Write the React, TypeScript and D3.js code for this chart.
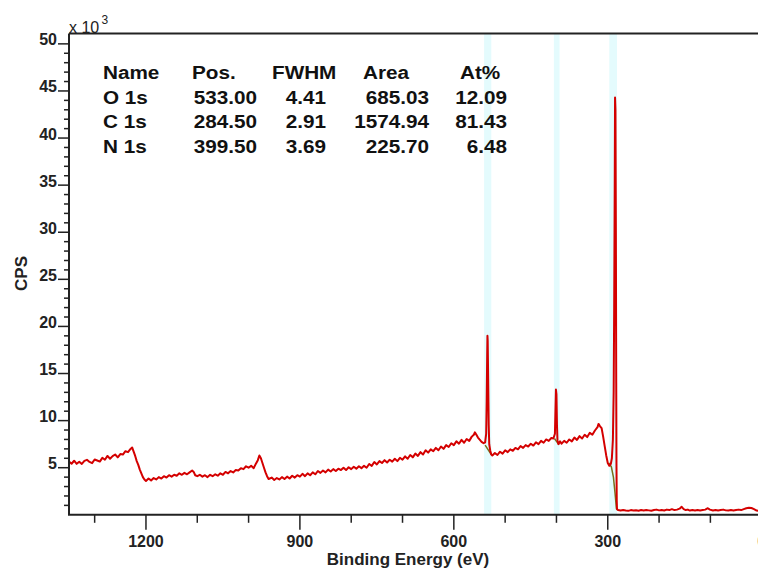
import React from 'react';
import * as d3 from 'd3';

// ---------- data ----------
// Survey spectrum: [binding energy (eV), counts (x10^3 CPS)]
const spectrum: [number, number][] = [
  [1350, 5.65], [1345, 5.42], [1340, 5.74], [1335, 5.41], [1330, 5.63], [1325, 5.4], [1320, 5.72],
  [1315, 5.84], [1310, 5.61], [1305, 5.48], [1300, 5.87], [1295, 5.76], [1290, 5.65], [1285, 6.05],
  [1280, 5.85], [1275, 6.25], [1270, 5.95], [1265, 6.23], [1260, 6.4], [1255, 6.1], [1250, 6.45],
  [1245, 6.4], [1240, 6.75], [1235, 6.65], [1230, 7.0], [1227, 7.15], [1224, 6.7], [1221, 6.25],
  [1218, 5.7], [1215, 5.3], [1212, 4.8], [1209, 4.4], [1206, 4.0], [1203, 3.75], [1200, 3.6],
  [1195, 3.85], [1190, 3.65], [1185, 3.9], [1180, 3.75], [1175, 4.0], [1170, 3.85], [1165, 4.1],
  [1160, 3.95], [1155, 4.2], [1150, 4.05], [1145, 4.25], [1140, 4.15], [1135, 4.4], [1130, 4.25],
  [1125, 4.45], [1120, 4.3], [1115, 4.5], [1110, 4.7], [1107, 4.55], [1104, 4.2], [1100, 4.1],
  [1095, 4.25], [1090, 4.05], [1085, 4.2], [1080, 4.0], [1075, 4.25], [1070, 4.1], [1065, 4.3],
  [1060, 4.15], [1055, 4.4], [1050, 4.25], [1045, 4.55], [1040, 4.4], [1035, 4.65], [1030, 4.5],
  [1025, 4.75], [1020, 4.7], [1015, 4.95], [1010, 4.85], [1005, 5.15], [1000, 5.0], [995, 5.2],
  [990, 4.95], [986, 5.4], [982, 5.8], [979, 6.3], [976, 6.0], [973, 5.5], [970, 5.0], [967, 4.5],
  [964, 4.1], [961, 3.8], [955, 3.95], [950, 3.7], [945, 3.9], [940, 3.75], [935, 4.0], [930, 3.8],
  [925, 4.05], [920, 3.85], [915, 4.15], [910, 3.95], [905, 4.2], [900, 4.05], [895, 4.35], [890, 4.1],
  [885, 4.4], [880, 4.2], [875, 4.5], [870, 4.3], [865, 4.65], [860, 4.45], [855, 4.7], [850, 4.5],
  [845, 4.8], [840, 4.6], [835, 4.85], [830, 4.65], [825, 4.9], [820, 4.75], [815, 5.0], [810, 4.75],
  [805, 5.05], [800, 4.85], [795, 5.1], [790, 4.9], [785, 5.15], [780, 4.95], [775, 5.2], [770, 5.0],
  [765, 5.4], [760, 5.2], [755, 5.6], [750, 5.35], [745, 5.7], [740, 5.5], [735, 5.8], [730, 5.55],
  [725, 5.85], [720, 5.65], [715, 5.95], [710, 5.7], [705, 6.05], [700, 5.85], [695, 6.2], [690, 5.95],
  [685, 6.35], [680, 6.1], [675, 6.5], [670, 6.25], [665, 6.65], [660, 6.4], [655, 6.85], [650, 6.6],
  [645, 6.95], [640, 6.75], [635, 7.1], [630, 6.85], [625, 7.25], [620, 7.0], [615, 7.4], [610, 7.2],
  [605, 7.6], [600, 7.4], [595, 7.8], [590, 7.55], [585, 7.95], [580, 7.65], [575, 8.05], [570, 7.85],
  [565, 8.3], [561, 8.5], [559, 8.75], [556, 8.5], [553, 8.2], [550, 8.0], [546, 7.75], [542, 7.6],
  [539, 7.7], [537, 8.6], [536, 12.0], [535, 17.0], [534.5, 19.0], [534, 18.5], [533, 14.0],
  [532, 9.5], [531, 7.5], [529, 6.8], [527, 6.4], [525, 6.3], [520, 6.55], [515, 6.35], [510, 6.7],
  [505, 6.5], [500, 6.85], [495, 6.65], [490, 6.95], [485, 6.8], [480, 7.1], [475, 6.95], [470, 7.3],
  [465, 7.1], [460, 7.4], [455, 7.25], [450, 7.55], [445, 7.35], [440, 7.7], [435, 7.5], [430, 7.85],
  [425, 7.65], [420, 8.0], [415, 7.85], [410, 8.15], [406, 8.1], [403, 8.6], [402, 11.0], [401, 13.3],
  [400, 12.8], [399, 9.5], [398, 7.9], [396, 7.5], [393, 7.8], [390, 7.55], [385, 7.85], [380, 7.65],
  [375, 8.0], [370, 7.8], [365, 8.2], [360, 7.95], [355, 8.35], [350, 8.1], [345, 8.5], [340, 8.25],
  [335, 8.7], [330, 8.5], [325, 8.95], [320, 9.3], [318, 9.65], [315, 9.4], [312, 9.2], [309, 8.3],
  [306, 7.3], [303, 6.3], [300, 5.5], [297, 5.2], [294, 5.4], [292, 6.0], [290, 8.0], [288.5, 13],
  [287.5, 22], [286.5, 34], [285.8, 44.3], [285, 43.0], [284.2, 30], [283.5, 14], [283, 5],
  [282.5, 1.5], [282, 0.6], [280, 0.5], [275, 0.45], [270, 0.5], [265, 0.45], [260, 0.42], [255, 0.5],
  [250, 0.45], [245, 0.48], [240, 0.43], [235, 0.5], [230, 0.45], [225, 0.5], [220, 0.47], [215, 0.43],
  [210, 0.5], [205, 0.55], [200, 0.47], [195, 0.5], [190, 0.45], [185, 0.55], [180, 0.5], [175, 0.6],
  [170, 0.5], [165, 0.55], [160, 0.65], [156, 0.85], [152, 0.6], [148, 0.5], [144, 0.55], [140, 0.45],
  [135, 0.5], [130, 0.45], [125, 0.5], [120, 0.45], [115, 0.5], [110, 0.55], [105, 0.7], [101, 0.55],
  [95, 0.45], [90, 0.5], [85, 0.45], [80, 0.5], [75, 0.55], [70, 0.47], [65, 0.45], [60, 0.5],
  [55, 0.45], [50, 0.5], [45, 0.55], [40, 0.5], [35, 0.6], [30, 0.7], [25, 0.75], [20, 0.72],
  [15, 0.6], [10, 0.45], [5, 0.4], [0, 0.4],
];

// fitted backgrounds under the peaks
const bgO1s: [number, number][] = [[539, 7.4], [533, 6.9], [527, 6.4]];
const bgN1s: [number, number][] = [[404, 8.1], [400, 7.8], [396, 7.5]];
const bgC1s: [number, number][] = [[298, 5.5], [293, 5.1], [289, 4.0], [286, 2.4], [283, 0.6]];

// highlighted fit regions (eV)
const regionStart = [541, 405, 297];
const regionEnd = [527, 394, 282];

// quantification table
const tableHeaders = ['Name', 'Pos.', 'FWHM', 'Area', 'At%'];
const peakNames = ['O 1s', 'C 1s', 'N 1s'];
const peakPos = ['533.00', '284.50', '399.50'];
const peakFwhm = ['4.41', '2.91', '3.69'];
const peakArea = ['685.03', '1574.94', '225.70'];
const peakAt = ['12.09', '81.43', '6.48'];

// axes
const xMajorTicks = [1200, 900, 600, 300, 0];
const xMinorTicks = [1300, 1100, 1000, 800, 700, 500, 400, 200, 100];
const yMajorTicks = [5, 10, 15, 20, 25, 30, 35, 40, 45, 50];
const yMinorTicks = [1, 2, 3, 4, 6, 7, 8, 9, 11, 12, 13, 14, 16, 17, 18, 19, 21, 22, 23, 24, 26, 27, 28, 29,
  31, 32, 33, 34, 36, 37, 38, 39, 41, 42, 43, 44, 46, 47, 48, 49];

const FONT = '"Liberation Sans", Arial, Helvetica, sans-serif';

export default function App() {
  const W = 758;
  const H = 578;
  const left = 69;
  const right = 761.7;
  const top = 33.5;
  const bottom = 514.8;

  const x = d3.scaleLinear().domain([1350, 0]).range([left, right]);
  const y = d3.scaleLinear().domain([0, 51.1]).range([bottom, top]);
  const line = d3.line<[number, number]>().x((d) => x(d[0])).y((d) => y(d[1]));

  const axisColor = '#222';
  const sx = 1.12; // horizontal stretch of table font

  const headerX = [103, 192, 272, 363, 460];
  const valueX = [103, 257, 326, 429, 507];
  const columns = [peakNames, peakPos, peakFwhm, peakArea, peakAt];
  const rowBase = [79, 104, 128.5, 153];

  return (
    <svg
      width={W}
      height={H}
      viewBox={`0 0 ${W} ${H}`}
      style={{ position: 'absolute', left: 0, top: 0, background: '#fff' }}
    >
      <rect x={0} y={0} width={W} height={H} fill="#fff" />
      {/* highlighted regions */}
      {regionStart.map((s, i) => (
        <rect
          key={'band' + i}
          x={x(s)}
          y={top}
          width={x(regionEnd[i]) - x(s)}
          height={bottom - top}
          fill="#e4fbfd"
        />
      ))}
      {/* backgrounds */}
      {[bgO1s, bgN1s, bgC1s].map((bg, i) => (
        <path key={'bg' + i} d={line(bg) || ''} fill="none" stroke="#76701c" strokeWidth={1.5} />
      ))}
      {/* spectrum */}
      <path d={line(spectrum) || ''} fill="none" stroke="#d40000" strokeWidth={2} strokeLinejoin="round" />

      {/* frame / axes */}
      <line x1={left} x2={W + 10} y1={top} y2={top} stroke={axisColor} strokeWidth={2} />
      <line x1={left} x2={left} y1={top} y2={bottom} stroke={axisColor} strokeWidth={2} />
      <line x1={left - 1} x2={W + 10} y1={bottom} y2={bottom} stroke={axisColor} strokeWidth={2} />

      {/* y ticks */}
      {yMinorTicks.map((t) => (
        <line key={'ym' + t} x1={left - 5} x2={left} y1={y(t)} y2={y(t)} stroke={axisColor} strokeWidth={1.5} />
      ))}
      {yMajorTicks.map((t) => (
        <g key={'yM' + t}>
          <line x1={left - 11} x2={left} y1={y(t)} y2={y(t)} stroke={axisColor} strokeWidth={1.5} />
          <text
            x={left - 12}
            y={y(t) + 1.5}
            textAnchor="end"
            fontFamily={FONT}
            fontWeight="bold"
            fontSize={16}
            fill="#222"
          >
            {t}
          </text>
        </g>
      ))}

      {/* x ticks */}
      {xMinorTicks.map((t) => (
        <line key={'xm' + t} x1={x(t)} x2={x(t)} y1={bottom} y2={bottom + 8} stroke={axisColor} strokeWidth={1.5} />
      ))}
      {xMajorTicks.map((t) => (
        <g key={'xM' + t}>
          <line x1={x(t)} x2={x(t)} y1={bottom} y2={bottom + 15} stroke={axisColor} strokeWidth={1.5} />
          <text
            x={x(t)}
            y={547}
            textAnchor="middle"
            fontFamily={FONT}
            fontWeight="bold"
            fontSize={16}
            fill="#222"
          >
            {t}
          </text>
        </g>
      ))}

      {/* axis titles */}
      <text
        x={408}
        y={565}
        textAnchor="middle"
        fontFamily={FONT}
        fontWeight="bold"
        fontSize={17}
        fill="#222"
      >
        Binding Energy (eV)
      </text>
      <text
        transform="translate(27,273.5) rotate(-90)"
        textAnchor="middle"
        fontFamily={FONT}
        fontWeight="bold"
        fontSize={17}
        fill="#222"
      >
        CPS
      </text>
      <text x={69} y={33} fontFamily={FONT} fontSize={16} fill="#222">
        x 10
      </text>
      <text x={101.5} y={23.5} fontFamily={FONT} fontSize={12} fill="#222">
        3
      </text>

      {/* quantification table */}
      <g transform={`scale(${sx},1)`} fontFamily={FONT} fontWeight="bold" fontSize={18.5} fill="#111">
        {tableHeaders.map((h, c) => (
          <text key={'h' + c} x={headerX[c] / sx} y={rowBase[0]} textAnchor="start">
            {h}
          </text>
        ))}
        {columns.map((col, c) =>
          col.map((v, r) => (
            <text
              key={'c' + c + 'r' + r}
              x={valueX[c] / sx}
              y={rowBase[r + 1]}
              textAnchor={c === 0 ? 'start' : 'end'}
            >
              {v}
            </text>
          ))
        )}
      </g>
    </svg>
  );
}
